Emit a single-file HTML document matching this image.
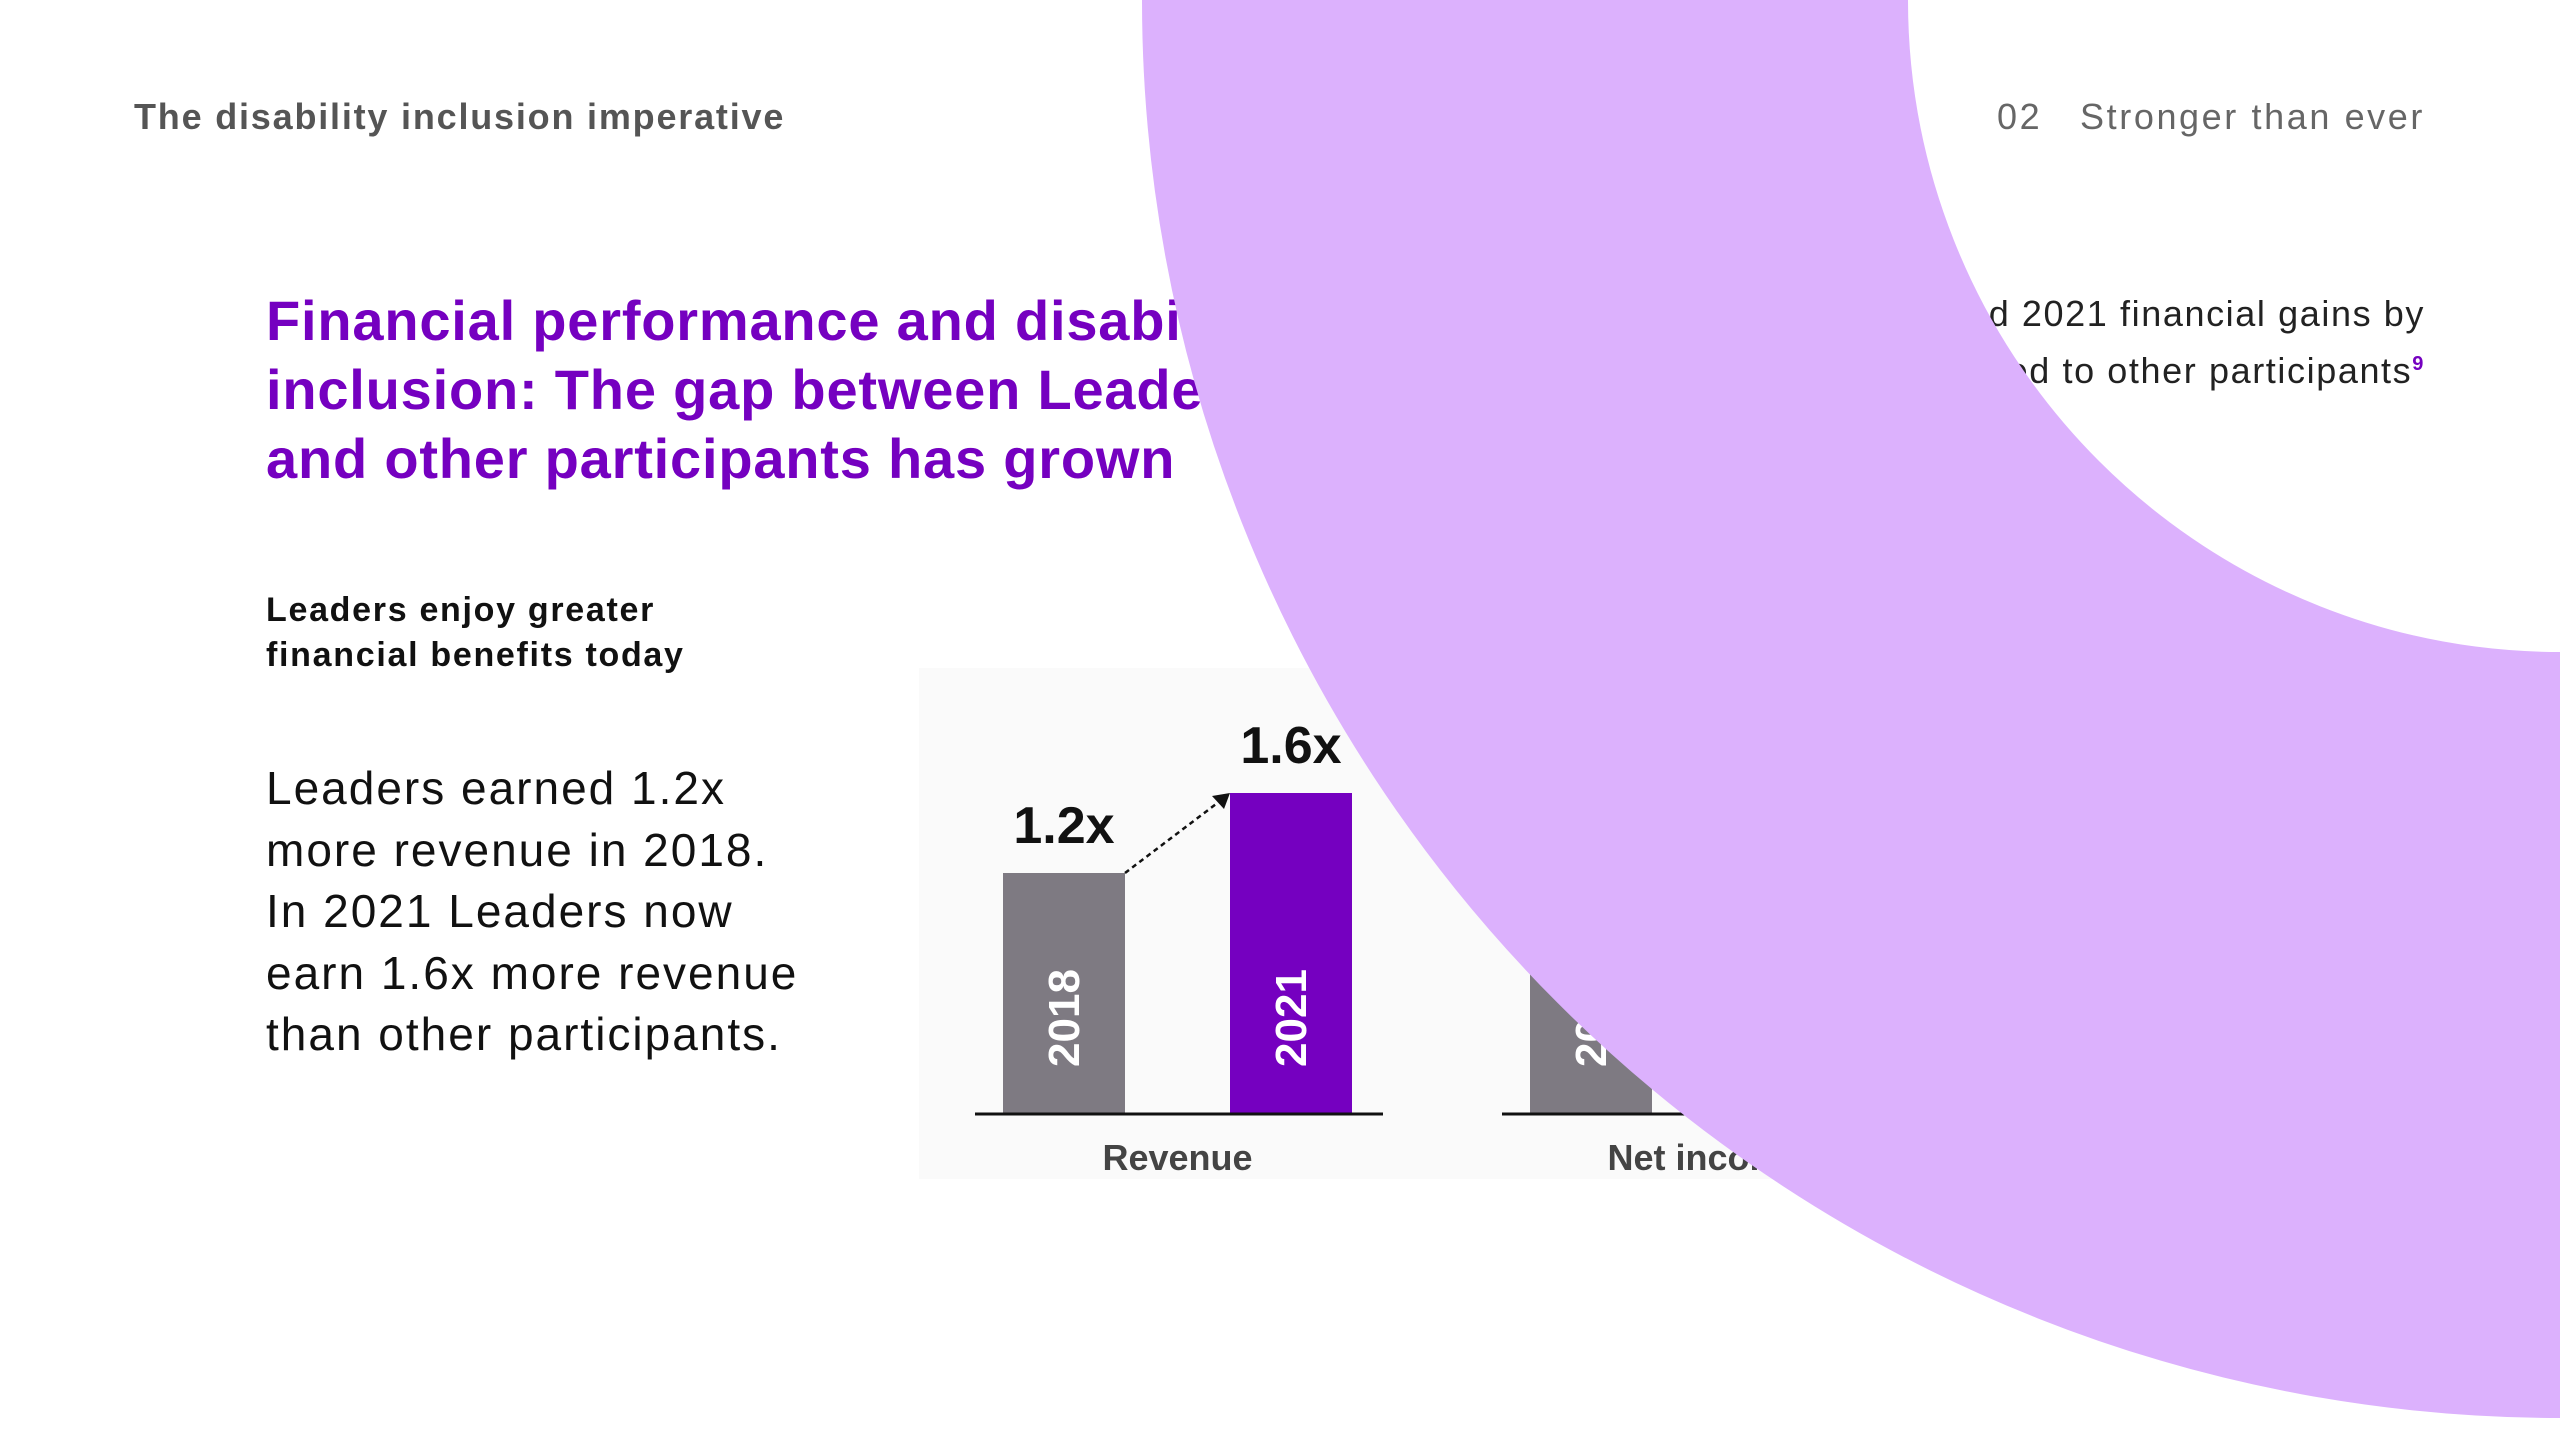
<!DOCTYPE html>
<html><head><meta charset="utf-8"><style>
html,body{margin:0;padding:0;background:#fff;}
body{width:2560px;height:1440px;overflow:hidden;position:relative;font-family:"Liberation Sans",sans-serif;}
.abs{position:absolute;white-space:nowrap;}
</style></head><body>
<div class="abs" style="left:134px;top:96px;font-size:36px;font-weight:bold;color:#555;letter-spacing:1.8px;">The disability inclusion imperative</div>
<div class="abs" style="right:135px;top:96px;font-size:36px;color:#666;letter-spacing:2.6px;">02&nbsp;&nbsp;&nbsp;Stronger than ever</div>
<div class="abs" style="left:266px;top:286px;font-size:56px;line-height:69px;font-weight:bold;color:#7500c0;letter-spacing:0.8px;">Financial performance and disability<br>inclusion: The gap between Leaders<br>and other participants has grown</div>
<div class="abs" style="right:135px;top:285px;font-size:36px;line-height:57px;color:#222;text-align:right;letter-spacing:1.6px;">Leaders have increased 2021 financial gains by<br>compared to other participants<sup style="color:#7500c0;font-size:20px;font-weight:bold;line-height:0;">9</sup></div>
<div class="abs" style="left:266px;top:588px;font-size:34px;line-height:45px;font-weight:bold;color:#111;letter-spacing:1.7px;">Leaders enjoy greater<br>financial benefits today</div>
<div class="abs" style="left:266px;top:758px;font-size:46px;line-height:61.5px;color:#111;letter-spacing:2px;">Leaders earned 1.2x<br>more revenue in 2018.<br>In 2021 Leaders now<br>earn 1.6x more revenue<br>than other participants.</div>

<svg id="chart" width="2560" height="1440" style="position:absolute;left:0;top:0;" xmlns="http://www.w3.org/2000/svg">
<rect x="919" y="668" width="1100" height="511" fill="#fafafa"/>
<g id="marks"></g>
<circle cx="2560" cy="0" r="1035" fill="none" stroke="#dcb1fd" stroke-width="766"/>
</svg>
<script>
const groups = ["Revenue", "Net income"];
const years = ["2018", "2021"];
const values2018 = [1.2, 1.3];
const values2021 = [1.6, 2.6];
const valueLabels2018 = ["1.2x", "1.3x"];
const valueLabels2021 = ["1.6x", "2.6x"];

const NS = "http://www.w3.org/2000/svg";
const g = document.getElementById('marks');
const baseY = 1113, pxPerUnit = 200, groupX0 = 1003, groupStep = 527, barW = 122, barGap = 227;
const y = v => baseY - v * pxPerUnit;
const gx = i => groupX0 + i * groupStep;
function mk(tag, attrs){const e=document.createElementNS(NS,tag);for(const k in attrs)e.setAttribute(k,attrs[k]);g.appendChild(e);return e;}

groups.forEach((name, i) => {
  const x1 = gx(i), x2 = gx(i) + barGap;
  const s = [[values2018[i], x1, '#7e7a82', valueLabels2018[i], years[0]], [values2021[i], x2, '#7500c0', valueLabels2021[i], years[1]]];
  s.forEach(([v, x, col, lab, yr], j) => {
    const r = mk('rect', {x: x, y: y(v), width: barW, height: baseY - y(v), fill: col});
    
    
    const t = mk('text', {x: x + barW/2, y: y(v) - 30, 'text-anchor': 'middle', 'font-size': 52, 'font-weight': 'bold', fill: '#111'});
    t.textContent = lab;
    
    
    const cx = x + barW/2 + 15, cy = 1018;
    const yt = mk('text', {x: cx, y: cy, 'text-anchor': 'middle', 'font-size': 44, 'font-weight': 'bold', fill: '#fff', transform: 'rotate(-90 ' + cx + ' ' + cy + ')'});
    yt.textContent = yr;
    
    
  });
  const ax = mk('line', {x1: x1 - 28, x2: x2 + barW + 31, y1: baseY + 1, y2: baseY + 1, stroke: '#111', 'stroke-width': 3});
  
  
  const cl = mk('text', {x: (x1 + x2 + barW)/2, y: 1170, 'text-anchor': 'middle', 'font-size': 36, 'font-weight': 'bold', fill: '#444'});
  cl.textContent = name;
  
  
  const ar = mk('line', {x1: x1 + barW, y1: y(values2018[i]), x2: x2 - 6, y2: y(values2021[i]) + 5, stroke: '#111', 'stroke-width': 2.5, 'stroke-dasharray': '5 4'});
  
  
  const ex = x2, ey = y(values2021[i]);
  const hd = mk('polygon', {points: ex + ',' + ey + ' ' + (ex - 18) + ',' + (ey + 3) + ' ' + (ex - 6) + ',' + (ey + 16), fill: '#111'});
  
  
});
</script>
</body></html>
